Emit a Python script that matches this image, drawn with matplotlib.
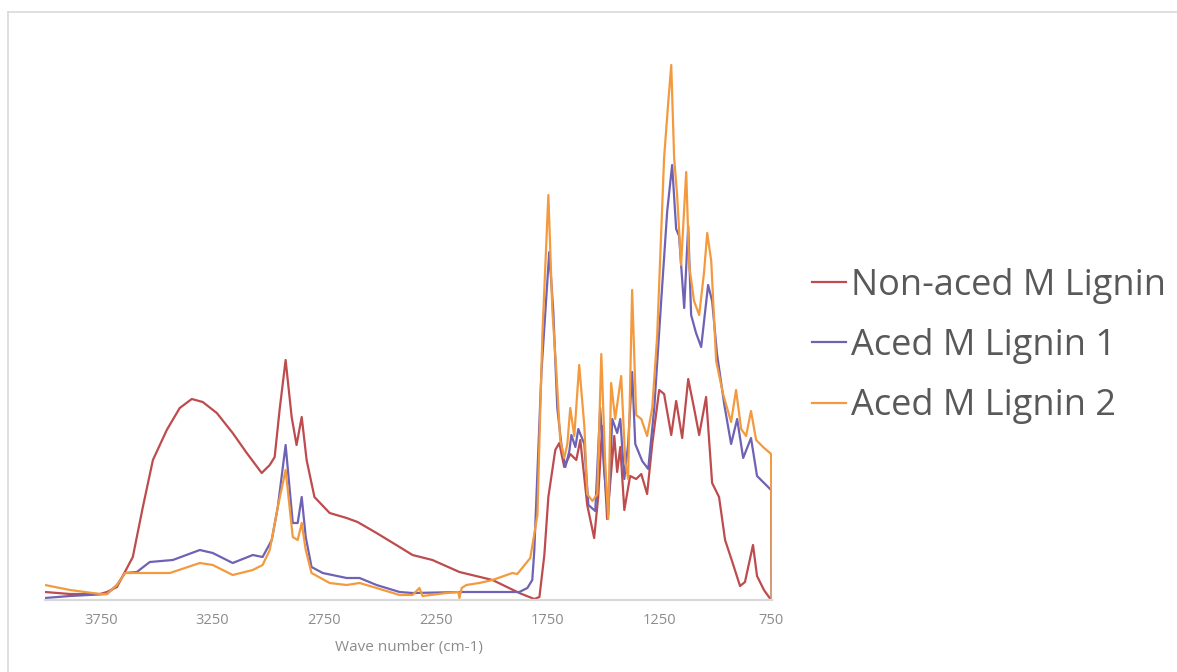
import matplotlib
matplotlib.use("Agg")
import matplotlib.pyplot as plt
from matplotlib.lines import Line2D

# FTIR spectra, values (arbitrary absorbance units)
wn_non_aced = [4000, 3888, 3754, 3723, 3678, 3607, 3562, 3517, 3455, 3397, 3343, 3294,
               3231, 3160, 3097, 3030, 2994, 2972, 2950, 2923, 2896, 2874, 2851, 2829,
               2794, 2726, 2650, 2601, 2516, 2413, 2355, 2266, 2145, 1997, 1877, 1810,
               1787, 1765, 1747, 1716, 1698, 1676, 1649, 1622, 1604, 1573, 1542, 1524,
               1506, 1484, 1452, 1439, 1425, 1407, 1381, 1354, 1331, 1305, 1282, 1251,
               1229, 1197, 1175, 1148, 1121, 1095, 1072, 1041, 1014, 983, 956, 925,
               889, 867, 831, 813, 782, 750]
ab_non_aced = [0.08, 0.06, 0.06, 0.08, 0.13, 0.43, 0.93, 1.40, 1.70, 1.92, 2.01, 1.98,
               1.87, 1.67, 1.47, 1.27, 1.35, 1.43, 1.90, 2.40, 1.83, 1.55, 1.83, 1.40,
               1.03, 0.87, 0.82, 0.78, 0.67, 0.53, 0.45, 0.40, 0.28, 0.20, 0.07, 0.01,
               0.03, 0.45, 1.03, 1.50, 1.57, 1.33, 1.46, 1.40, 1.60, 0.95, 0.62, 1.03,
               1.74, 0.81, 1.64, 1.28, 1.53, 0.90, 1.24, 1.21, 1.26, 1.06, 1.56, 2.10,
               2.06, 1.65, 1.99, 1.62, 2.21, 1.92, 1.65, 2.03, 1.17, 1.03, 0.60, 0.39,
               0.14, 0.18, 0.55, 0.24, 0.10, 0.00]

wn_aced_1 = [4000, 3888, 3723, 3678, 3642, 3589, 3531, 3428, 3307, 3249, 3160, 3070,
             3026, 2985, 2958, 2923, 2891, 2869, 2851, 2833, 2807, 2757, 2650, 2592,
             2516, 2413, 2355, 2132, 1935, 1877, 1841, 1819, 1810, 1778, 1743, 1725,
             1707, 1689, 1671, 1653, 1644, 1626, 1613, 1586, 1568, 1537, 1515, 1497,
             1479, 1461, 1439, 1425, 1407, 1390, 1372, 1358, 1327, 1300, 1273, 1242,
             1215, 1193, 1175, 1162, 1139, 1121, 1108, 1086, 1063, 1032, 1014, 992,
             960, 929, 902, 875, 840, 813, 750, 748]
ab_aced_1 = [0.02, 0.04, 0.06, 0.15, 0.27, 0.28, 0.38, 0.40, 0.50, 0.47, 0.37, 0.45,
             0.43, 0.60, 0.93, 1.55, 0.77, 0.77, 1.03, 0.63, 0.33, 0.27, 0.22, 0.22,
             0.15, 0.08, 0.07, 0.08, 0.08, 0.08, 0.12, 0.20, 0.49, 2.28, 3.48, 2.89,
             1.92, 1.56, 1.33, 1.49, 1.65, 1.53, 1.71, 1.56, 0.95, 0.89, 1.92, 1.28,
             0.85, 1.81, 1.67, 1.81, 1.21, 1.56, 2.28, 1.56, 1.39, 1.31, 1.92, 2.99,
             3.89, 4.35, 3.71, 3.64, 2.92, 3.74, 2.85, 2.67, 2.53, 3.15, 2.99, 2.46,
             1.96, 1.56, 1.81, 1.42, 1.62, 1.24, 1.10, 0.00]

wn_aced_2 = [4000, 3888, 3754, 3723, 3678, 3642, 3441, 3307, 3249, 3160, 3070, 3026,
             2994, 2958, 2923, 2891, 2869, 2851, 2833, 2807, 2726, 2650, 2592, 2516,
             2413, 2355, 2324, 2310, 2203, 2150, 2145, 2135, 2114, 2056, 1997, 1908,
             1886, 1828, 1796, 1774, 1747, 1729, 1711, 1694, 1676, 1662, 1649, 1631,
             1609, 1586, 1573, 1550, 1528, 1510, 1493, 1479, 1466, 1448, 1421, 1403,
             1390, 1372, 1354, 1331, 1305, 1282, 1260, 1229, 1211, 1197, 1184, 1171,
             1153, 1130, 1117, 1095, 1072, 1050, 1036, 1018, 996, 965, 929, 907,
             884, 862, 840, 817, 786, 750, 748]
ab_aced_2 = [0.15, 0.10, 0.06, 0.06, 0.15, 0.27, 0.27, 0.37, 0.35, 0.25, 0.30, 0.35,
             0.50, 0.93, 1.30, 0.63, 0.60, 0.77, 0.50, 0.27, 0.17, 0.15, 0.17, 0.12,
             0.05, 0.05, 0.12, 0.04, 0.07, 0.08, 0.02, 0.12, 0.15, 0.17, 0.20, 0.27,
             0.26, 0.42, 0.85, 2.64, 4.05, 2.89, 2.28, 1.60, 1.42, 1.56, 1.92, 1.64,
             2.35, 1.74, 1.06, 0.99, 1.06, 2.46, 1.39, 0.81, 2.17, 1.81, 2.24, 1.39,
             1.21, 3.10, 1.85, 1.81, 1.64, 1.92, 2.64, 4.42, 4.96, 5.35, 4.42, 4.06,
             3.35, 4.28, 3.35, 2.99, 2.85, 3.28, 3.67, 3.39, 2.39, 2.06, 1.78, 2.10,
             1.71, 1.64, 1.89, 1.60, 1.53, 1.46, 0.00]

labels = ["Non-aced M Lignin", "Aced M Lignin 1", "Aced M Lignin 2"]
colors = ["#BE4B4D", "#6E62B4", "#F39A3E"]
tick_vals = [3750, 3250, 2750, 2250, 1750, 1250, 750]

W, H = 1177, 672
fig = plt.figure(figsize=(W / 100, H / 100), dpi=100)
ax = fig.add_axes([45 / W, 72 / H, 727 / W, 560 / H])

series = [(wn_non_aced, ab_non_aced), (wn_aced_1, ab_aced_1), (wn_aced_2, ab_aced_2)]
for (x, y), lab, col in zip(series, labels, colors):
    ax.plot(x, y, color=col, lw=1.6, label=lab)

ax.set_xlim(4000, 746)
ax.set_ylim(0, 5.6)
ax.set_xticks(tick_vals)
ax.set_xticklabels([str(t) for t in tick_vals])
ax.set_yticks([])
for s in ["top", "right", "left"]:
    ax.spines[s].set_visible(False)
ax.spines["bottom"].set_color("#D9D9D9")
ax.spines["bottom"].set_linewidth(1.6)
ax.tick_params(axis="x", length=0, pad=9, labelsize=10.5, labelcolor="#8C8C8C")
for t in ax.get_xticklabels():
    t.set_fontfamily("Open Sans")
ax.set_xlabel("Wave number (cm-1)", fontsize=11, color="#8C8C8C",
              fontfamily="Open Sans", labelpad=9)

leg = fig.legend(loc="center left", bbox_to_anchor=(812 / W, 1 - 346 / H),
                 frameon=False, borderpad=0, borderaxespad=0,
                 handlelength=0.95, handletextpad=0.12, labelspacing=0.67,
                 prop={"family": "Open Sans", "size": 26})
for t in leg.get_texts():
    t.set_color("#595959")

# chart area border
fig.add_artist(Line2D([8 / W, 8 / W], [0, 1 - 12 / H], color="#D9D9D9", lw=1.2))
fig.add_artist(Line2D([8 / W, 1], [1 - 12 / H, 1 - 12 / H], color="#D9D9D9", lw=1.2))

fig.savefig("out.png", dpi=100)
